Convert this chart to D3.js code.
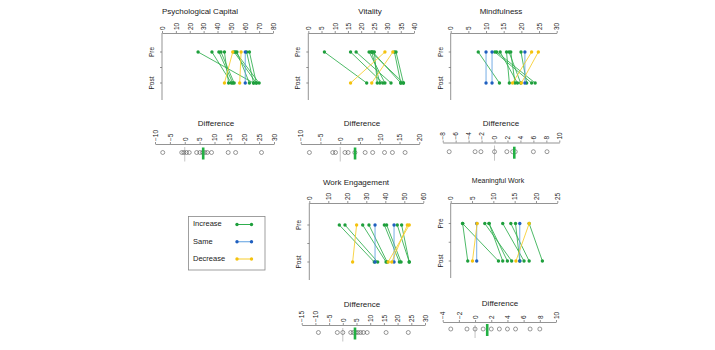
<!DOCTYPE html>
<html>
<head>
<meta charset="utf-8">
<script src="https://cdn.jsdelivr.net/npm/d3@7"></script>
<style>
  body { margin: 0; background: #fff; }
  svg { font-family: "Liberation Sans", Arial, sans-serif; }
</style>
</head>
<body>
<div id="chart"></div>
<script>
// Measures
const titles = ["Psychological Capital", "Vitality", "Mindfulness", "Work Engagement", "Meaningful Work"];
const timeLabels = ["Pre", "Post"];
const legendLabels = ["Increase", "Same", "Decrease"];

// Pre / post scores per participant
const psycapPre  = [26, 36, 41, 42.5, 45, 51, 52, 53, 54, 57, 60, 61, 63];
const psycapPost = [66, 50, 51, 52, 48, 45, 68, 70, 63, 56, 60, 66, 68];
const vitalityPre  = [6.1, 16, 18.1, 23, 23.8, 24.4, 25, 29, 32, 32.6, 33.2, 24];
const vitalityPost = [22.1, 28.2, 31.3, 29, 36, 35, 26.1, 16, 24, 35, 36, 27.1];
const mindPre  = [7.8, 10, 11.7, 12.5, 13, 14, 15.8, 16.5, 17, 19.9, 21, 22.9, 24.8];
const mindPost = [13.8, 10, 11.7, 22.9, 23.9, 18.9, 16.6, 19.8, 18.2, 21.5, 21, 17.5, 20];
const workPre  = [15.8, 18.8, 24.9, 28.1, 31.4, 34.6, 39.5, 40.7, 44.6, 46.3, 48.6, 51.6, 52.6];
const workPost = [34.2, 36, 22.8, 40.4, 41, 34.6, 47.4, 48.3, 44.6, 52.6, 52.6, 43.4, 41.5];
const meanPre  = [2.8, 2.8, 6.1, 6.2, 8, 9, 9, 12.2, 14.1, 15.2, 16.2, 18.4, 18.4];
const meanPost = [4, 11.2, 6.1, 5.1, 14.3, 13.3, 12.2, 17.2, 18.4, 16.2, 16.2, 15.3, 21.5];

// Differences (post - pre) as plotted in the strips, and the group means
const psycapDiff   = [-7.4, -1, -0.3, 0.6, 1.5, 4, 5.1, 6, 6.8, 7.6, 9, 14.6, 17.1, 25.8];
const vitalityDiff = [-7.8, -1.9, -1.2, 1.2, 2, 3.7, 6.3, 8.2, 11.2, 13.2, 16.4];
const mindDiff     = [-7, -3, -2.1, 0, 1.9, 2.8, 3.2, 6, 8.1];
const workDiff     = [-8.9, -2, 0, 2.9, 3.8, 4.8, 5.6, 6.5, 7.5, 8.9, 15.8, 23.9];
const meanDiff     = [-3, -1, 0, 1, 2, 3, 4, 5, 6.8, 8];
const diffMeans = [6.2, 3.75, 3.05, 4.45, 1.5];

// Tick values
const psycapTicks   = d3.range(0, 81, 10);
const vitalityTicks = d3.range(0, 41, 5);
const mindTicks     = d3.range(0, 31, 5);
const workTicks     = d3.range(0, 61, 10);
const meanTicks     = d3.range(0, 26, 5);
const psycapDiffTicks   = d3.range(-10, 31, 5);
const vitalityDiffTicks = d3.range(-10, 21, 5);
const mindDiffTicks     = d3.range(-8, 11, 2);
const workDiffTicks     = d3.range(-15, 31, 5);
const meanDiffTicks     = d3.range(-4, 11, 2);

const pres  = [psycapPre, vitalityPre, mindPre, workPre, meanPre];
const posts = [psycapPost, vitalityPost, mindPost, workPost, meanPost];
const diffs = [psycapDiff, vitalityDiff, mindDiff, workDiff, meanDiff];
const ticks = [psycapTicks, vitalityTicks, mindTicks, workTicks, meanTicks];
const diffTicks = [psycapDiffTicks, vitalityDiffTicks, mindDiffTicks, workDiffTicks, meanDiffTicks];

// Layout
const panelLayout = [
  { x0: 162,   x1: 273,   top: 33,  pre: 52,    post: 83,  bottom: 100, tx: 200, ty: 12,  tsize: 8 },
  { x0: 308.3, x1: 414,   top: 33,  pre: 52,    post: 83,  bottom: 100, tx: 370, ty: 12,  tsize: 8 },
  { x0: 450.7, x1: 556.7, top: 33,  pre: 52,    post: 83,  bottom: 100, tx: 501, ty: 12,  tsize: 8 },
  { x0: 309.3, x1: 423.3, top: 203, pre: 225,   post: 262, bottom: 280, tx: 356, ty: 183, tsize: 8 },
  { x0: 450.7, x1: 557.3, top: 203, pre: 223.5, post: 261, bottom: 278, tx: 498, ty: 181, tsize: 7 }
];
const diffLayout = [
  { x0: 155,   x1: 274,   axis: 144, cy: 152.5, tx: 216, ty: 124 },
  { x0: 300.7, x1: 419.3, axis: 144, cy: 152.5, tx: 362, ty: 124 },
  { x0: 442.7, x1: 559.3, axis: 142.5, cy: 151.7, tx: 501, ty: 124 },
  { x0: 301.7, x1: 425,   axis: 325, cy: 332.5, tx: 362, ty: 304.5 },
  { x0: 442.7, x1: 556,   axis: 322, cy: 329,   tx: 500, ty: 303.5 }
];

const colors = {
  Increase: { pt: "#1e9f3c", ln: "#2fae4e" },
  Same:     { pt: "#1f5fbf", ln: "#5d9fe0" },
  Decrease: { pt: "#f4c20d", ln: "#f7cc2a" }
};
const axisColor = "#666";
const textColor = "#222";

const svg = d3.select("#chart").append("svg")
  .attr("width", 715).attr("height", 350);

function status(a, b) {
  return b > a ? "Increase" : b < a ? "Decrease" : "Same";
}

// Draw a top axis with rotated labels
function topAxis(g, x, tickVals, y) {
  const ax = g.append("g").attr("transform", `translate(0,${y})`)
    .call(d3.axisTop(x).tickValues(tickVals).tickSize(2).tickSizeOuter(0).tickPadding(2));
  ax.select(".domain").attr("stroke", axisColor).attr("stroke-width", 0.7);
  ax.selectAll(".tick line").attr("stroke", axisColor).attr("stroke-width", 0.7);
  ax.selectAll(".tick text")
    .attr("fill", textColor)
    .attr("font-size", 6.5)
    .attr("transform", "rotate(-90)")
    .attr("x", 3).attr("y", 0)
    .attr("dy", "0.35em")
    .attr("text-anchor", "start");
}

panelLayout.forEach((L, i) => {
  const g = svg.append("g");
  const x = d3.scaleLinear().domain(d3.extent(ticks[i])).range([L.x0, L.x1]);
  const y = d3.scalePoint().domain(timeLabels).range([L.pre, L.post]);

  g.append("text")
    .attr("x", L.tx).attr("y", L.ty)
    .attr("text-anchor", "middle").attr("dominant-baseline", "middle")
    .attr("font-size", L.tsize).attr("fill", textColor)
    .text(titles[i]);

  topAxis(g, x, ticks[i], L.top);

  // left axis
  g.append("line")
    .attr("x1", L.x0).attr("x2", L.x0).attr("y1", L.top).attr("y2", L.bottom)
    .attr("stroke", axisColor).attr("stroke-width", 0.7);
  const mid = (L.pre + L.post) / 2;
  g.selectAll(".ytick").data([L.pre, mid, L.post]).join("line")
    .attr("x1", L.x0 - 2).attr("x2", L.x0).attr("y1", d => d).attr("y2", d => d)
    .attr("stroke", axisColor).attr("stroke-width", 0.7);
  g.selectAll(".ylab").data(timeLabels).join("text")
    .attr("transform", d => `translate(${L.x0 - 8},${y(d)}) rotate(-90)`)
    .attr("text-anchor", "middle")
    .attr("font-size", 6.5).attr("fill", textColor)
    .text(d => d);

  const pairs = pres[i].map((p, k) => ({ pre: p, post: posts[i][k], s: status(p, posts[i][k]) }));
  const order = { Increase: 0, Same: 1, Decrease: 2 };
  pairs.sort((a, b) => order[a.s] - order[b.s]);

  g.selectAll(".pair").data(pairs).join("line")
    .attr("x1", d => x(d.pre)).attr("y1", y("Pre"))
    .attr("x2", d => x(d.post)).attr("y2", y("Post"))
    .attr("stroke", d => colors[d.s].ln)
    .attr("stroke-opacity", 0.85)
    .attr("stroke-width", 1);
  ["pre", "post"].forEach(k => {
    g.selectAll(".pt-" + k).data(pairs).join("circle")
      .attr("cx", d => x(d[k]))
      .attr("cy", y(k === "pre" ? "Pre" : "Post"))
      .attr("r", 1.7)
      .attr("fill", d => colors[d.s].pt);
  });
});

diffLayout.forEach((L, i) => {
  const g = svg.append("g");
  const x = d3.scaleLinear().domain(d3.extent(diffTicks[i])).range([L.x0, L.x1]);

  g.append("text")
    .attr("x", L.tx).attr("y", L.ty)
    .attr("text-anchor", "middle").attr("dominant-baseline", "middle")
    .attr("font-size", 8).attr("fill", textColor)
    .text("Difference");

  topAxis(g, x, diffTicks[i], L.axis);

  // zero reference
  g.append("line")
    .attr("x1", x(0)).attr("x2", x(0))
    .attr("y1", L.axis + 3).attr("y2", L.cy + 9)
    .attr("stroke", "#c4c4c4").attr("stroke-width", 1);

  g.selectAll(".dot").data(diffs[i]).join("circle")
    .attr("cx", d => x(d)).attr("cy", L.cy)
    .attr("r", 2)
    .attr("fill", "none")
    .attr("stroke", "#555")
    .attr("stroke-width", 0.6);

  g.append("line")
    .attr("x1", x(diffMeans[i])).attr("x2", x(diffMeans[i]))
    .attr("y1", L.cy - 5).attr("y2", L.cy + 7)
    .attr("stroke", "#22b043").attr("stroke-width", 2.6);
});

// Legend
const lg = svg.append("g");
lg.append("rect")
  .attr("x", 188.5).attr("y", 216.5).attr("width", 76.5).attr("height", 53.5)
  .attr("fill", "#fff").attr("stroke", "#888").attr("stroke-width", 0.8);
const ly = d3.scalePoint().domain(legendLabels).range([224.5, 259]);
legendLabels.forEach(s => {
  lg.append("text")
    .attr("x", 193).attr("y", ly(s))
    .attr("dominant-baseline", "middle")
    .attr("font-size", 7.5).attr("fill", textColor)
    .text(s);
  lg.append("line")
    .attr("x1", 237).attr("x2", 251.5).attr("y1", ly(s)).attr("y2", ly(s))
    .attr("stroke", colors[s].ln).attr("stroke-width", 1);
  lg.selectAll(null).data([237, 251.5]).join("circle")
    .attr("cx", d => d).attr("cy", ly(s)).attr("r", 1.7)
    .attr("fill", colors[s].pt);
});
</script>
</body>
</html>
